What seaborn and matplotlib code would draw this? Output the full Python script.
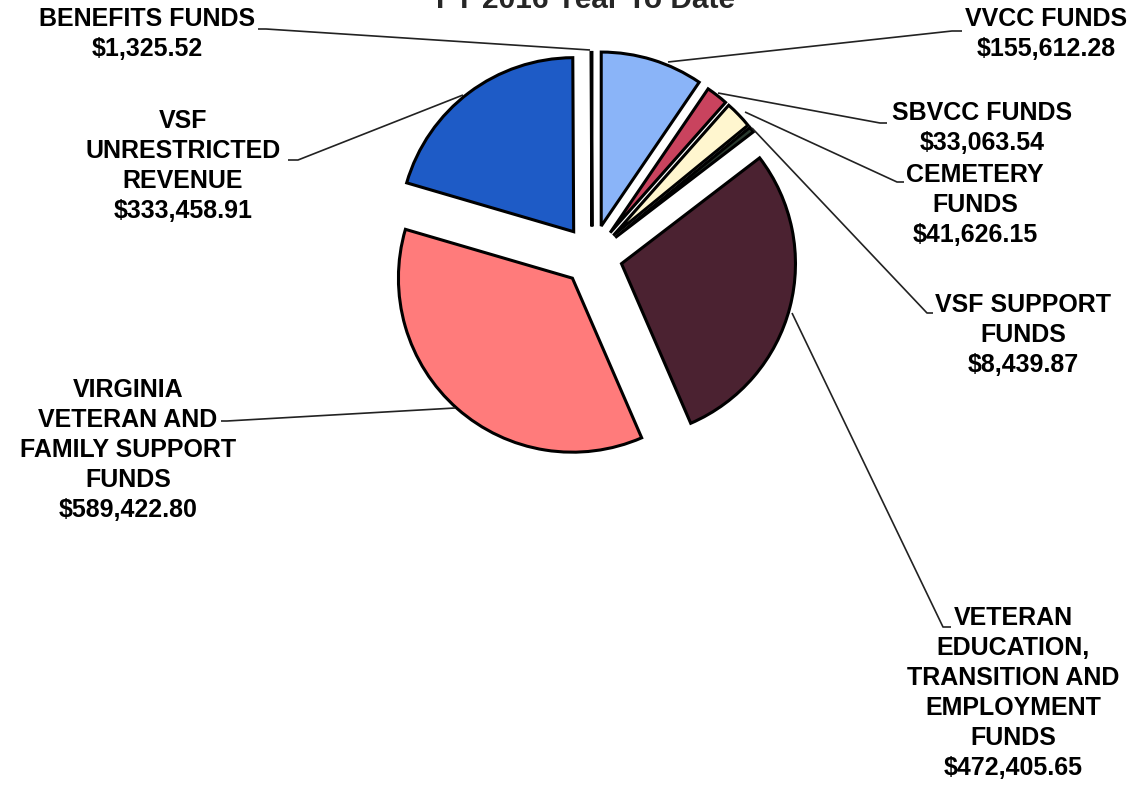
import matplotlib
matplotlib.use("Agg")
import matplotlib.pyplot as plt
import seaborn as sns

# slice order: clockwise from 12 o'clock
funds = [
    "VVCC FUNDS",
    "SBVCC FUNDS",
    "CEMETERY\nFUNDS",
    "VSF SUPPORT\nFUNDS",
    "VETERAN\nEDUCATION,\nTRANSITION AND\nEMPLOYMENT\nFUNDS",
    "VIRGINIA\nVETERAN AND\nFAMILY SUPPORT\nFUNDS",
    "VSF\nUNRESTRICTED\nREVENUE",
    "BENEFITS FUNDS",
]
amounts = [155612.28, 33063.54, 41626.15, 8439.87, 472405.65, 589422.80, 333458.91, 1325.52]
slice_colors = ["#8AB4F8", "#C9435E", "#FFF6CF", "#2B3B30", "#4B2231", "#FF7B7B", "#1E5BC6", "#FFFFFF"]

W, H = 1139, 787

sns.set_theme(style="white")
plt.rcParams["font.family"] = ["Liberation Sans", "DejaVu Sans"]

fig = plt.figure(figsize=(W / 100, H / 100), dpi=100)
ax = fig.add_axes([0, 0, 1, 1])

# pie centre / radius in pixel space (y measured from the top)
cx, cy, r = 592, 256, 174
# explode is in data units here, so scale by radius
offsets = [0.18, 0.17, 0.17, 0.17, 0.175, 0.17, 0.175, 0.17]
ax.pie(
    amounts,
    colors=slice_colors,
    startangle=90,
    counterclock=False,
    explode=[o * r for o in offsets],
    center=(cx, H - cy),
    radius=r,
    wedgeprops=dict(edgecolor="black", linewidth=2.2),
    frame=False,
)
ax.set_xlim(0, W)
ax.set_ylim(0, H)
ax.set_aspect("equal")
ax.axis("off")

# label block centre and leader line (pixels from top-left)
layout = [
    ((1046, 34), [(668, 62), (952, 31), (962, 31)]),
    ((982, 128), [(718, 93), (880, 123), (887, 123)]),
    ((975, 205), [(745, 112), (897, 182), (904, 182)]),
    ((1023, 335), [(752, 128), (927, 313), (933, 313)]),
    ((1013, 693), [(792, 313), (943, 627), (951, 627)]),
    ((128, 450), [(455, 408), (227, 421), (221, 421)]),
    ((183, 166), [(463, 95), (298, 160), (288, 160)]),
    ((147, 34), [(590, 50), (266, 29), (258, 29)]),
]

for name, amount, (pos, line) in zip(funds, amounts, layout):
    ax.text(pos[0], H - pos[1], f"{name}\n${amount:,.2f}", ha="center", va="center",
            multialignment="center", fontsize=18, fontweight="bold", linespacing=1.32,
            color="black")
    xs = [p[0] for p in line]
    ys = [H - p[1] for p in line]
    ax.plot(xs, ys, color="#222222", lw=1.2, solid_capstyle="butt")

# title sits partly above the top edge, as in the source
fig.text(585 / W, 1 - 8 / H, "FY 2016 Year To Date", ha="center", va="baseline",
         fontsize=21.5, fontweight="bold")

fig.savefig("out.png", dpi=100, facecolor="white")
